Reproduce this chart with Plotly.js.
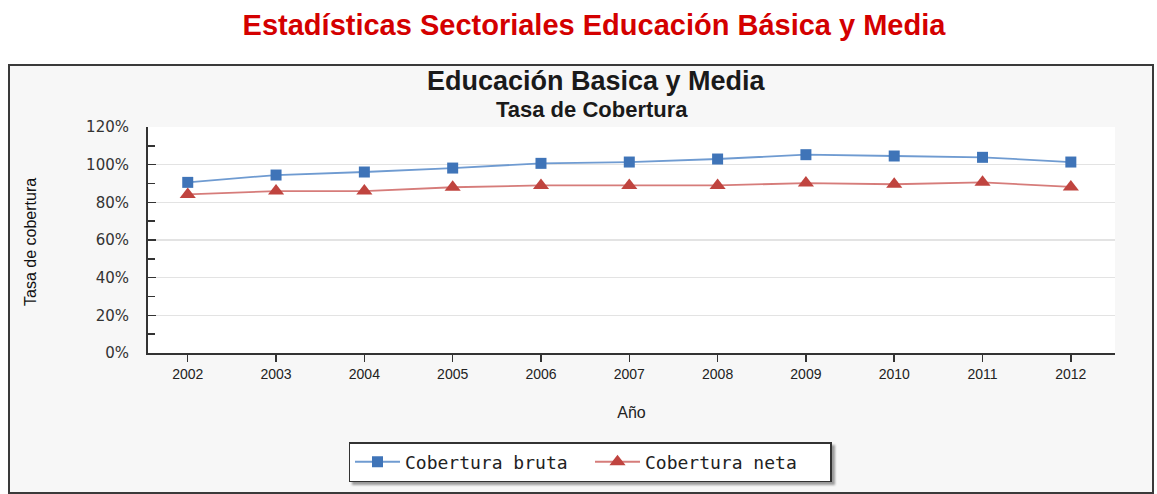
<!DOCTYPE html>
<html>
<head>
<meta charset="utf-8">
<script src="https://cdn.plot.ly/plotly-3.0.1.min.js"></script>
<style>
  html, body { margin: 0; padding: 0; background: #ffffff; width: 1157px; height: 494px; overflow: hidden; }
  #box { position: absolute; left: 8px; top: 64px; width: 1142px; height: 426px; border: 2px solid #3a3a3a; background: #f7f7f7; }
  #chart { position: absolute; left: 0; top: 0; width: 1157px; height: 494px; }
  #chart .legend .bg { filter: drop-shadow(3px 3px 1px #9a9a9a); }
</style>
</head>
<body>
<div id="box"></div>
<div id="chart"></div>
<script>
const years = [2002, 2003, 2004, 2005, 2006, 2007, 2008, 2009, 2010, 2011, 2012];
const coberturaBruta = [90.6, 94.5, 96.1, 98.2, 100.7, 101.4, 103.0, 105.3, 104.6, 103.9, 101.4];
const coberturaNeta = [84.2, 86.0, 86.0, 88.0, 89.0, 89.0, 89.0, 90.2, 89.6, 90.6, 88.2];
const seriesNames = ["Cobertura bruta", "Cobertura neta"];
const yTicks = [0, 20, 40, 60, 80, 100, 120];

const traces = [
  {
    x: years, y: coberturaBruta, name: seriesNames[0], type: "scatter", mode: "lines+markers",
    line: { color: "#6f9bd1", width: 1.8 },
    marker: { symbol: "square", size: 11, color: "#3f74b8" }
  },
  {
    x: years, y: coberturaNeta, name: seriesNames[1], type: "scatter", mode: "lines+markers",
    line: { color: "#d67c7a", width: 1.8 },
    marker: { symbol: "triangle-up", size: 14, color: "#c0443f" }
  }
];

const layout = {
  width: 1157, height: 494,
  paper_bgcolor: "rgba(0,0,0,0)",
  plot_bgcolor: "#ffffff",
  margin: { l: 148, r: 42, t: 127, b: 137 },
  showlegend: true,
  title: {
    text: "<b>Estadísticas Sectoriales Educación Básica y Media</b>",
    font: { family: "Liberation Sans, Arial, sans-serif", size: 29, color: "#d40000" },
    x: 594 / 1157, xanchor: "center", xref: "container", y: 1 - 25 / 494, yanchor: "middle", yref: "container"
  },
  annotations: [
    { text: "<b>Educación Basica y Media</b>", xref: "paper", yref: "paper", x: (596 - 148) / 967, y: 1.0 + (127 - 80) / 230,
      xanchor: "center", yanchor: "middle", showarrow: false,
      font: { family: "Liberation Sans, Arial, sans-serif", size: 27, color: "#1a1a1a" } },
    { text: "<b>Tasa de Cobertura</b>", xref: "paper", yref: "paper", x: (592 - 148) / 967, y: 1.0 + (127 - 109) / 230,
      xanchor: "center", yanchor: "middle", showarrow: false,
      font: { family: "Liberation Sans, Arial, sans-serif", size: 22, color: "#1a1a1a" } },
    { text: "Tasa de cobertura", xref: "paper", yref: "paper", x: (31 - 148) / 967, y: (357 - 244) / 230,
      xanchor: "center", yanchor: "middle", showarrow: false, textangle: -90,
      font: { family: "Liberation Sans Narrow, Liberation Sans, Arial, sans-serif", size: 16, color: "#111" } }
  ],
  xaxis: {
    range: [2001.55, 2012.5],
    tickvals: years, ticktext: years.map(String),
    ticks: "outside", ticklen: 7, tickcolor: "#333", tickwidth: 1.5,
    showline: true, linecolor: "#333", linewidth: 2,
    showgrid: false, zeroline: false,
    tickfont: { family: "Liberation Sans Narrow, Liberation Sans, Arial, sans-serif", size: 14, color: "#222" },
    title: { text: "Año", standoff: 26, font: { family: "Liberation Sans, Arial, sans-serif", size: 16, color: "#222" } }
  },
  yaxis: {
    range: [0, 120],
    tickvals: yTicks, ticktext: yTicks.map(v => v + "%"),
    ticks: "inside", ticklen: 8, tickcolor: "#333", tickwidth: 1.5,
    ticklabelstandoff: 14,
    minor: { dtick: 10, ticks: "inside", ticklen: 7, tickcolor: "#333", tickwidth: 1.5, showgrid: false },
    showline: true, linecolor: "#333", linewidth: 2,
    showgrid: true, gridcolor: "#e3e3e3", gridwidth: 1.5,
    zeroline: false,
    tickfont: { family: "DejaVu Sans, Verdana, sans-serif", size: 15, color: "#333" }
  },
  legend: {
    orientation: "h",
    x: (590 - 148) / 967, xanchor: "center",
    y: -(468 - 357) / 230, yanchor: "middle",
    bgcolor: "#ffffff", bordercolor: "#333", borderwidth: 1.5,
    font: { family: "DejaVu Sans Mono, monospace", size: 18, color: "#222" },
    itemwidth: 45,
    entrywidth: 180, entrywidthmode: "pixels"
  }
};

Plotly.newPlot("chart", traces, layout, { displayModeBar: false, staticPlot: true });
</script>
</body>
</html>
